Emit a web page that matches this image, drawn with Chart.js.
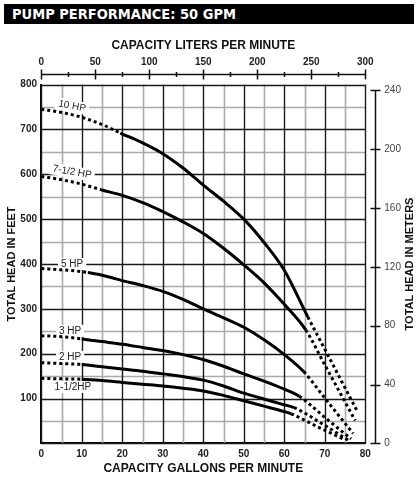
<!DOCTYPE html>
<html lang="en">
<head>
  <meta charset="UTF-8">
  <title>Pump Performance: 50 GPM</title>
  <script src="https://cdn.jsdelivr.net/npm/chart.js"></script>
  <style>
    body {
      margin: 0;
      background: #fff;
      font-family: "Liberation Sans", Arial, sans-serif;
    }
    #wrap {
      position: relative;
      width: 419px;
      height: 481px;
    }
    #box {
      position: absolute;
      left: 0;
      top: 0;
      width: 419px;
      height: 481px;
    }
    #banner {
      position: absolute;
      left: 4px;
      top: 4px;
      width: 402px;
      height: 20px;
      padding-left: 8px;
      background: #000;
      color: #fff;
      font: bold 14.5px "DejaVu Sans Condensed", "DejaVu Sans", sans-serif;
      line-height: 20px;
      white-space: nowrap;
    }
  </style>
</head>
<body>
  <div id="wrap">
    <div id="box"><canvas id="pumpChart"></canvas></div>
    <div id="banner">PUMP PERFORMANCE: 50 GPM</div>
  </div>

  <script>
    // curve names and the stretch of each curve drawn solid (GPM)
    const curveNames = ['10 HP', '7-1/2 HP', '5 HP', '3 HP', '2 HP', '1-1/2HP'];
    const solidFrom = [19.5, 15, 11.5, 10, 10, 10];
    const solidTo = [65.8, 65.3, 64.8, 63.7, 62.4, 61.7];

    // capacity (GPM) and total head (feet)
    const hp10Gpm = [0, 5, 10, 15, 19.5, 25, 30, 35, 40, 45, 50, 55, 60, 65.8, 70, 74, 78];
    const hp10Head = [745, 738, 727, 711, 692, 670, 646, 614, 576, 540, 500, 448, 386, 282, 210, 141, 72];

    const hp7Gpm = [0, 5, 10, 15, 20, 25, 30, 35, 40, 45, 50, 55, 60, 65.3, 70, 74, 77.5];
    const hp7Head = [595, 588, 578, 565, 553, 537, 517, 494, 468, 435, 398, 358, 310, 253, 175, 109, 51];

    const hp5Gpm = [0, 5, 10, 11.5, 15, 20, 25, 30, 35, 40, 45, 50, 55, 60, 64.8, 70, 77];
    const hp5Head = [390, 387, 383, 381, 375, 363, 352, 339, 321, 300, 280, 259, 231, 198, 160, 101, 22];

    const hp3Gpm = [0, 5, 10, 15, 20, 25, 30, 35, 40, 45, 50, 55, 60, 63.7, 70, 76.5];
    const hp3Head = [240, 238, 233, 227, 221, 214, 207, 198, 187, 172, 155, 139, 121, 105, 58, 10];

    const hp2Gpm = [0, 5, 10, 15, 20, 25, 30, 35, 40, 45, 50, 55, 60, 62.4, 70, 76];
    const hp2Head = [180, 178, 176, 171, 166, 161, 155, 149, 141, 128, 112, 99, 86, 80, 40, 6];

    const hp15Gpm = [0, 5, 10, 15, 20, 25, 30, 35, 40, 45, 50, 55, 60, 61.7, 68, 75];
    const hp15Head = [145, 144, 143, 140, 136, 132, 128, 123, 117, 107, 95, 83, 71, 66, 38, 8];

    const allGpm = [hp10Gpm, hp7Gpm, hp5Gpm, hp3Gpm, hp2Gpm, hp15Gpm];
    const allHead = [hp10Head, hp7Head, hp5Head, hp3Head, hp2Head, hp15Head];

    // axis ranges
    const gpmMax = 80;
    const feetMax = 800;
    const litersMax = 300;
    const metersMax = feetMax / 3.2808;

    // where the curve names sit (GPM, feet) and their tilt in degrees
    const curveLabels = [
      { text: '10 HP', x: 7.6, y: 752, tilt: 11 },
      { text: '7-1/2 HP', x: 7.6, y: 605, tilt: 10 },
      { text: '5 HP', x: 7.6, y: 400, tilt: 0 },
      { text: '3 HP', x: 7.1, y: 251, tilt: 0 },
      { text: '2 HP', x: 7.1, y: 193, tilt: 0 },
      { text: '1-1/2HP', x: 7.8, y: 126, tilt: 0 }
    ];

    const datasets = curveNames.map((name, k) => ({
      label: name,
      data: allGpm[k].map((g, i) => ({ x: g, y: allHead[k][i] })),
      borderColor: '#000',
      borderWidth: 3,
      borderCapStyle: 'butt',
      pointRadius: 0,
      cubicInterpolationMode: 'monotone',
      segment: {
        borderDash: c => (c.p0.parsed.x >= solidFrom[k] - 0.01 && c.p1.parsed.x <= solidTo[k] + 0.01) ? undefined : [3, 3]
      }
    }));

    // grid, curve names, the floating liters ruler and the meters ruler
    const extras = {
      id: 'extras',
      beforeDatasetsDraw(chart) {
        const { ctx, scales, chartArea } = chart;
        ctx.save();

        // grid: light lines every 5 GPM / 50 ft, dark ones every 10 GPM / 100 ft
        const lines = (dark) => {
          ctx.beginPath();
          scales.x.ticks.forEach(t => {
            if ((t.value % 10 === 0) !== dark) return;
            const px = Math.round(scales.x.getPixelForValue(t.value)) + 0.5;
            ctx.moveTo(px, chartArea.top);
            ctx.lineTo(px, chartArea.bottom);
          });
          scales.y.ticks.forEach(t => {
            if ((t.value % 100 === 0) !== dark) return;
            const py = Math.round(scales.y.getPixelForValue(t.value)) + 0.5;
            ctx.moveTo(chartArea.left, py);
            ctx.lineTo(chartArea.right, py);
          });
          ctx.stroke();
        };
        ctx.strokeStyle = '#a9a9a9';
        ctx.lineWidth = 1.6;
        lines(false);
        ctx.strokeStyle = '#1a1a1a';
        ctx.lineWidth = 1.4;
        lines(true);

        // curve names with a white patch behind them
        ctx.font = '10px "Liberation Sans", Arial, sans-serif';
        ctx.textAlign = 'center';
        ctx.textBaseline = 'middle';
        curveLabels.forEach(l => {
          const px = scales.x.getPixelForValue(l.x);
          const py = scales.y.getPixelForValue(l.y);
          const w = ctx.measureText(l.text).width;
          ctx.save();
          ctx.translate(px, py);
          ctx.rotate(l.tilt * Math.PI / 180);
          ctx.fillStyle = '#fff';
          ctx.fillRect(-w / 2 - 3, -6, w + 6, 12);
          ctx.fillStyle = '#222';
          ctx.fillText(l.text, 0, 0);
          ctx.restore();
        });
        ctx.restore();
      },
      afterDraw(chart) {
        const { ctx, scales, chartArea } = chart;
        ctx.save();
        ctx.strokeStyle = '#111';
        ctx.lineWidth = 1.5;

        // liters ruler above the plot
        const top = scales.x2;
        const ry = Math.round(chartArea.top - 10.6) + 0.5;
        ctx.beginPath();
        ctx.moveTo(top.getPixelForValue(0), ry);
        ctx.lineTo(top.getPixelForValue(litersMax), ry);
        for (let v = 0; v <= litersMax; v += 25) {
          const px = Math.round(top.getPixelForValue(v)) + 0.5;
          const half = v % 50 === 0 ? 5 : 2.5;
          ctx.moveTo(px, ry - half);
          ctx.lineTo(px, ry + half);
        }
        ctx.stroke();

        // meters ruler right of the plot
        const right = scales.y2;
        const rx = Math.round(chartArea.right + 10) + 0.5;
        ctx.beginPath();
        ctx.moveTo(rx, right.getPixelForValue(0));
        ctx.lineTo(rx, right.getPixelForValue(240));
        for (let v = 0; v <= 240; v += 40) {
          const py = Math.round(right.getPixelForValue(v)) + 0.5;
          ctx.moveTo(rx - 5, py);
          ctx.lineTo(rx + 5, py);
        }
        ctx.stroke();

        // right axis title, reading upward
        ctx.fillStyle = '#111';
        ctx.font = 'bold 11px "Liberation Sans", Arial, sans-serif';
        ctx.textAlign = 'center';
        ctx.textBaseline = 'middle';
        ctx.translate(410, (chartArea.top + chartArea.bottom) / 2);
        ctx.rotate(-Math.PI / 2);
        ctx.fillText('TOTAL HEAD IN METERS', 0, 0);
        ctx.restore();
      }
    };

    const labelFont = { family: '"Liberation Sans", Arial, sans-serif', size: 10, weight: 'bold' };
    const titleFont = { family: '"Liberation Sans", Arial, sans-serif', size: 12, weight: 'bold' };

    new Chart(document.getElementById('pumpChart'), {
      type: 'line',
      data: { datasets },
      plugins: [extras],
      options: {
        responsive: true,
        maintainAspectRatio: false,
        animation: false,
        layout: { padding: { top: 34.8, left: 1.4, right: 0, bottom: 0.8 } },
        plugins: {
          legend: { display: false },
          tooltip: { enabled: false }
        },
        scales: {
          x: {
            type: 'linear',
            position: 'bottom',
            min: 0,
            max: gpmMax,
            afterFit: s => { s.height = 36.8; },
            ticks: {
              stepSize: 5,
              autoSkip: false,
              maxRotation: 0,
              padding: 4.6,
              color: '#222',
              font: labelFont,
              callback: v => (v % 10 === 0 ? v : '')
            },
            grid: { display: false, drawTicks: false },
            border: { color: '#000', width: 2 },
            title: {
              display: true,
              text: 'CAPACITY GALLONS PER MINUTE',
              color: '#111',
              padding: { top: 4, bottom: 4 },
              font: titleFont
            }
          },
          x2: {
            type: 'linear',
            position: 'top',
            min: 0,
            max: litersMax,
            afterFit: s => { s.height = 49.8; },
            ticks: {
              stepSize: 50,
              maxRotation: 0,
              padding: 16.6,
              color: '#222',
              font: labelFont
            },
            grid: { display: false, drawTicks: false },
            border: { display: false },
            title: {
              display: true,
              text: 'CAPACITY LITERS PER MINUTE',
              color: '#111',
              padding: { top: 4, bottom: 4 },
              font: titleFont
            }
          },
          y: {
            type: 'linear',
            position: 'left',
            min: 0,
            max: feetMax,
            afterFit: s => { s.width = 39.9; },
            ticks: {
              stepSize: 50,
              autoSkip: false,
              padding: 4.3,
              color: '#222',
              font: labelFont,
              callback: v => (v % 100 === 0 && v > 0 ? v : '')
            },
            grid: { display: false, drawTicks: false },
            border: { color: '#000', width: 2 },
            title: {
              display: true,
              text: 'TOTAL HEAD IN FEET',
              color: '#111',
              padding: { top: 4, bottom: 4 },
              font: { family: '"Liberation Sans", Arial, sans-serif', size: 11, weight: 'bold' }
            }
          },
          y2: {
            type: 'linear',
            position: 'right',
            min: 0,
            max: metersMax,
            afterFit: s => { s.width = 53.7; },
            ticks: {
              stepSize: 40,
              includeBounds: false,
              padding: 19,
              color: '#444',
              font: { family: '"Liberation Sans", Arial, sans-serif', size: 10 }
            },
            grid: { display: false, drawTicks: false },
            border: { display: false }
          }
        }
      }
    });
  </script>
</body>
</html>
